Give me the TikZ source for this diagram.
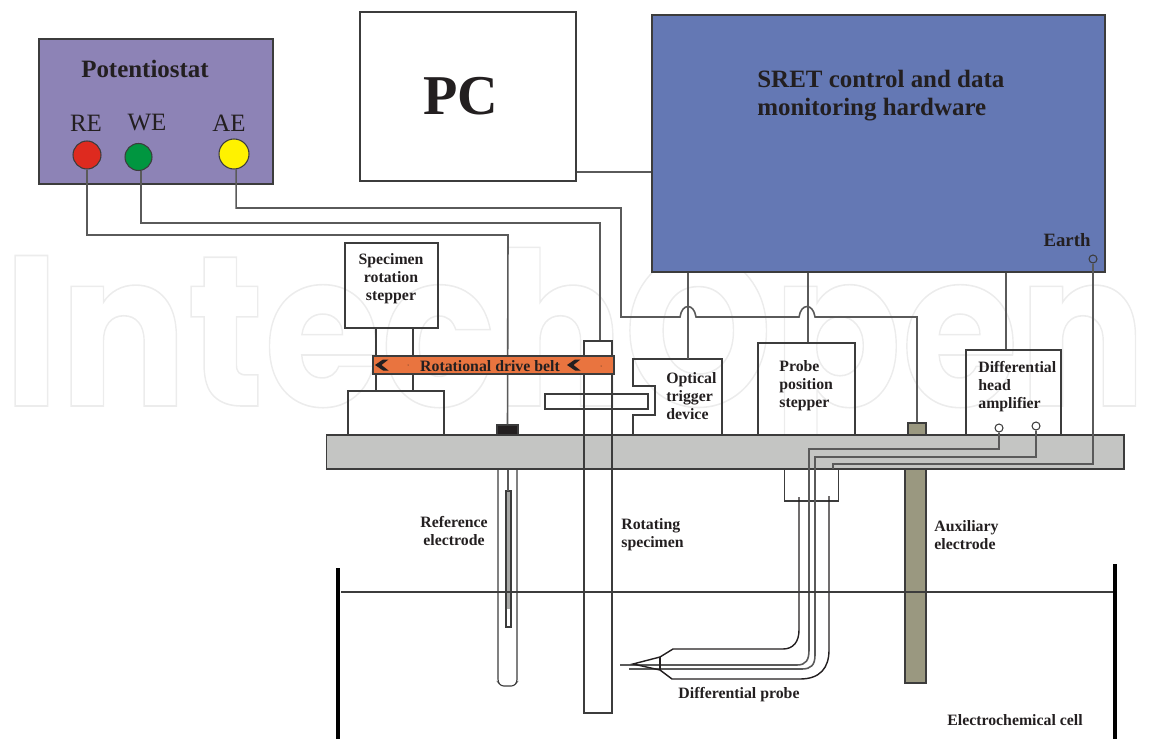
\documentclass[tikz,border=0pt]{standalone}
\usepackage{fontspec}
\usepackage{graphicx}
\usepackage{xcolor}
\usetikzlibrary{arrows.meta,positioning,calc}
\setmainfont{Liberation Serif}
\newfontfamily\markfont{Poppins}
\definecolor{potpurple}{HTML}{8D83B6}
\definecolor{sretblue}{HTML}{6478B4}
\definecolor{beltorange}{HTML}{E9743F}
\definecolor{plategray}{HTML}{C4C5C3}
\definecolor{auxolive}{HTML}{9A9880}
\definecolor{inkline}{HTML}{3C3C3C}
\definecolor{wiregray}{HTML}{5A5A5A}
\definecolor{inktext}{HTML}{231F20}
\definecolor{rered}{HTML}{DE2A1F}
\definecolor{wegreen}{HTML}{009640}
\definecolor{aeyellow}{HTML}{FFF200}

\begin{document}
\begin{tikzpicture}[
 x=0.02cm,y=-0.02cm,
 box/.style={draw=inkline,line width=0.65pt,inner sep=0pt,minimum width=#1},
 box/.default=10mm,
 wire/.style={draw=wiregray,line width=0.9pt},
 socket/.style={circle,draw=inkline,line width=0.6pt,inner sep=0pt,minimum size=#1},
 lab/.style={font=\fontsize{9}{10.2}\selectfont\bfseries,text=inktext,inner sep=0pt,align=left},
 head/.style={font=\fontsize{14.2}{15.9}\selectfont\bfseries,text=inktext,inner sep=0pt,align=left},
 port/.style={font=\fontsize{14.2}{16}\selectfont,text=inktext,inner sep=0pt}
]
\useasboundingbox (0,0) rectangle (1151,739);
\node[anchor=base west,inner sep=0pt,font=\markfont\bfseries\fontsize{122}{122}\selectfont] (watermark) at (3,406)
  {\scalebox{0.885}[1]{\special{pdf:code 1 Tr 0.9 w 0.925 0.925 0.925 RG}IntechOpen\special{pdf:code 0 Tr}}};

% upper units
\node[box=46.8mm,minimum height=29mm,fill=potpurple] (potentiostat) at (156,111.5) {};
\node[head] (potlabel) at (145,69) {Potentiostat};
\node[port] (relabel) at (86,123) {RE};
\node[port] (welabel) at (147,123) {WE};
\node[port] (aelabel) at (229,123) {AE};
\node[socket=5.6mm,fill=rered] (re) at (87,155) {};
\node[socket=5.4mm,fill=wegreen] (we) at (138.5,157) {};
\node[socket=6mm,fill=aeyellow] (ae) at (234,154) {};

\node[box=43.2mm,minimum height=33.8mm] (pc) at (468,96.5) {};
\node[font=\fontsize{32}{33}\selectfont\bfseries,text=inktext,inner sep=0pt] (pclabel) at (460.5,96) {PC};

\node[box=90.6mm,minimum height=51.4mm,fill=sretblue] (sret) at (878.5,143.5) {};
\node[head,anchor=west] (sretlabel) at (757,96) {SRET control and data\\monitoring hardware};
\node[lab,font=\fontsize{10.7}{12}\selectfont\bfseries] (earthlabel) at (1067,240) {Earth};
\node[socket=1.6mm] (earth) at (1093,259) {};

% base plate and what stands on it
\node[box=159.6mm,minimum height=6.8mm,fill=plategray] (plate) at (725,452) {};

\node[box=18.6mm,minimum height=17mm] (rotstepper) at (391.5,285.5) {};
\node[lab,align=center] (rotlabel) at (391,278.5) {Specimen\\rotation\\stepper};
\node[box=7.4mm,minimum height=12.6mm] (shaft) at (394.5,359.5) {};
\node[box=19.2mm,minimum height=8.8mm] (rotbase) at (396,413) {};

\node[box=5.6mm,minimum height=74.4mm] (specimen) at (598,527) {};
\node[box=5.6mm,minimum height=3.2mm] (speccap) at (598,349) {};
\node[box=20.6mm,minimum height=3mm] (disc) at (596.5,401.5) {};

\draw[box] (633,435) -- (633,415) -- (655,415) -- (655,386) -- (633,386) -- (633,359) -- (722,359) -- (722,436);
\coordinate (opttop) at (688,359);
\node[lab,anchor=west] (optlabel) at (666,396) {Optical\\trigger\\device};

\node[box=19.4mm,minimum height=18.4mm] (probestepper) at (806.5,389) {};
\node[lab,anchor=west] (probelabel) at (779,385.5) {Probe\\position\\stepper};

\node[box=19mm,minimum height=17mm] (amp) at (1013.5,392.5) {};
\node[lab,anchor=west] (amplabel) at (978,387) {Differential\\head\\amplifier};
\node[socket=1.6mm] (ampa) at (999,428) {};
\node[socket=1.6mm] (ampb) at (1036,426) {};

\node[box=4.2mm,minimum height=2mm,fill=inktext] (reblock) at (507.5,430) {};
\node[box=3.6mm,minimum height=2.4mm,fill=auxolive] (aeblock) at (917,429) {};

% below the plate
\node[box=4.2mm,minimum height=42.8mm,fill=auxolive] (aux) at (915.5,576) {};
\draw[box,rounded corners=1.5pt] (498,469) -- (498,682) -- (501,686) -- (514,686) -- (517,682) -- (517,469);
\node[box=1mm,minimum height=27.2mm] (reinner) at (508.5,559) {};
\fill[plategray!85!black] (507,492) rectangle (510,609);
\coordinate (recoretop) at (508,491);
\node[box=10.8mm,minimum height=6.4mm] (holder) at (811.5,485) {};

% wiring
\coordinate (return) at (508,235);
\coordinate (weturn) at (600,223);
\coordinate (aeturn) at (621,208);
\coordinate (aeback) at (621,317);
\draw[wire] (re.south) |- (return) -- (reblock.north);
\draw[wire] (plate.south -| recoretop) -- (recoretop);
\draw[wire] (we.-80) |- (weturn) -- (speccap.north -| weturn);
\draw[wire] (ae.-82) |- (aeturn) -- (aeback) -- (680,317)
  .. controls (682,303) and (694,303) .. (696,317) -- (799,317)
  .. controls (801,303) and (813,303) .. (815,317) -| (aeblock.north);
\draw[wire] (pc.east |- 0,172) -- (sret.west |- 0,172);
\draw[wire] (sret.south -| opttop) -- (opttop);
\draw[wire] (sret.south -| 808,0) -- (probestepper.north -| 808,0);
\draw[wire] (sret.south -| 1006,0) -- (amp.north -| 1006,0);

\coordinate (earthturn) at (1093,464);
\coordinate (earthend) at (833,469);
\draw[wire] (earth.south) |- (earthend |- earthturn) -- (earthend);

% belt goes over the wires and shafts
\node[box=48.2mm,minimum height=3.6mm,fill=beltorange] (belt) at (493.5,365) {};
\node[lab] (beltlabel) at (490,366) {Rotational drive belt};
\foreach \x in {375,567} \fill[inktext] (\x,365) -- (\x+8,359.5) -- (\x+13.5,359.5) -- (\x+6.5,365) -- (\x+13.5,370.5) -- (\x+8,370.5) -- cycle;
\foreach \x/\y in {408/365,601/366} \fill[inktext] (\x,\y) circle (0.5);

% probe body
\coordinate (tipa) at (620,665);
\coordinate (tipb) at (629,669);
\draw[wire] (ampa.south) |- (809,449) -- (809,650) .. controls (809,660) and (806,665) .. (797,665) -- (tipa);
\draw[wire] (ampb.south) |- (815,457) -- (815,655) .. controls (815,665) and (811,669) .. (802,669) -- (tipb);
\draw[line width=0.8pt,inktext] (799,497) -- (799,630) .. controls (799,642) and (793,649) .. (783,649) -- (673,649) -- (660,657) -- (633,664) -- (660,670) -- (672,679) -- (800,679) .. controls (820,679) and (829,668) .. (829,650) -- (829,496);
\draw[line width=0.8pt,inktext] (660,657) -- (660,670);

% cell
\draw[inkline,line width=0.7pt] (341,592) -- (1115,592);
\draw[black,line width=1.8pt] (338,568) -- (338,739);
\draw[black,line width=1.8pt] (1115,564) -- (1115,739);

\node[lab,align=center] (reflabel) at (454,531) {Reference\\electrode};
\node[lab,anchor=west] (speclabel) at (621,535) {Rotating\\specimen};
\node[lab,anchor=west] (auxlabel) at (934,535) {Auxiliary\\electrode};
\node[lab] (probetitle) at (739,695) {Differential probe};
\node[lab] (celllabel) at (1015,720) {Electrochemical cell};
\end{tikzpicture}
\end{document}
